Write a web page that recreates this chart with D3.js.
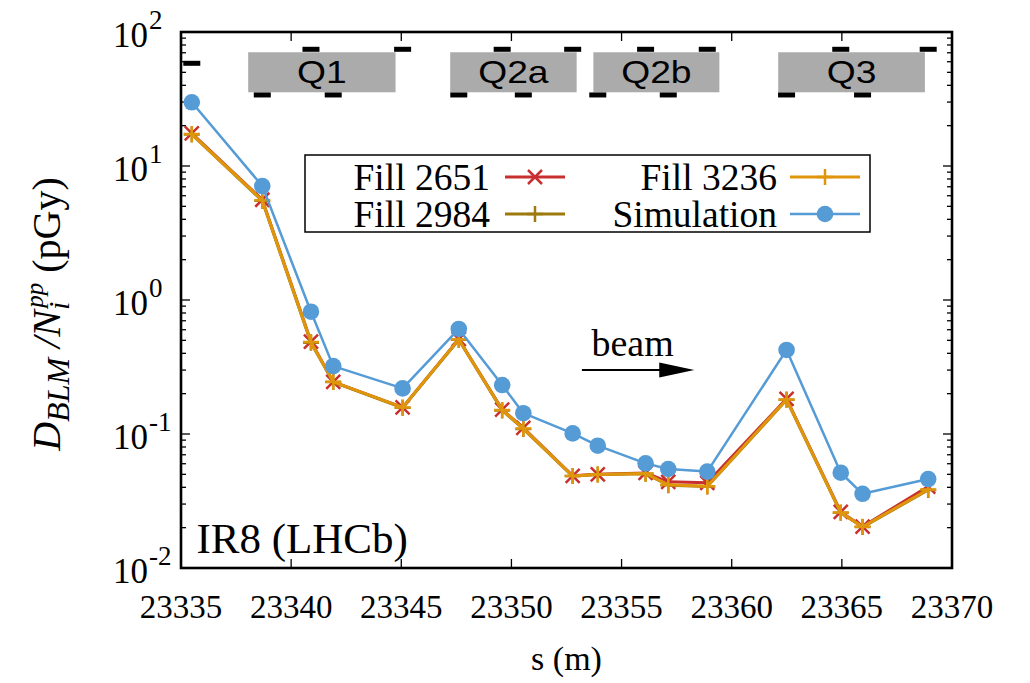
<!DOCTYPE html>
<html><head><meta charset="utf-8">
<script src="https://cdn.jsdelivr.net/npm/d3@7"></script>
<style>body{margin:0;background:#fff;} svg{display:block} .sf{font-family:"Liberation Serif","Times New Roman",Times,serif;}</style>
</head><body>
<svg id="c" width="1030" height="683"></svg>
<script>
// ---- data ----
const positions = [23335.49, 23338.69, 23340.90, 23341.91, 23345.06, 23347.61, 23349.58, 23350.54, 23352.78, 23353.92, 23356.09, 23357.12, 23358.89, 23362.49, 23364.95, 23365.94, 23368.92];
const fill2651 = [17.5, 5.6, 0.49, 0.245, 0.158, 0.51, 0.152, 0.111, 0.0487, 0.0500, 0.0512, 0.0440, 0.0432, 0.183, 0.0262, 0.0204, 0.0405];
const fill2984 = [17.2, 5.5, 0.48, 0.244, 0.157, 0.505, 0.150, 0.109, 0.0485, 0.0498, 0.0505, 0.0415, 0.0405, 0.180, 0.0258, 0.0202, 0.0382];
const fill3236 = [17.3, 5.55, 0.485, 0.245, 0.158, 0.508, 0.151, 0.110, 0.0486, 0.0499, 0.0508, 0.0418, 0.0408, 0.181, 0.0259, 0.0203, 0.0385];
const simulation = [29.9, 7.09, 0.818, 0.321, 0.219, 0.608, 0.232, 0.143, 0.101, 0.0818, 0.0604, 0.0548, 0.0524, 0.424, 0.0514, 0.0358, 0.0461];
const blmMarkY = [58.4, 33.9, 74.3, 33.9, 74.3, 33.9, 74.3, 33.9, 74.3, 33.9, 74.3, 33.9, 74.3, 33.9, 74.3, 33.9, 74.3];
const magnetNames = ["Q1", "Q2a", "Q2b", "Q3"];
const magnetStart = [23338.05, 23347.22, 23353.72, 23362.11];
const magnetEnd = [23344.74, 23352.96, 23359.44, 23368.77];
const magnetTop = 70.6, magnetBottom = 35.5;
const xTicks = [23335, 23340, 23345, 23350, 23355, 23360, 23365, 23370];
const yExponents = [-2, -1, 0, 1, 2];
const seriesNames = ["Fill 2651", "Fill 2984", "Fill 3236", "Simulation"];
const seriesColors = ["#c8302f", "#9e7a0e", "#e0960c", "#559bd6"];

const svg = d3.select("#c");
const M = {l: 181, r: 952, t: 32, b: 568};
const x = d3.scaleLinear().domain([23335, 23370]).range([M.l, M.r]);
const y = d3.scaleLog().domain([0.01, 100]).range([M.b, M.t]);
const sans = "Liberation Sans, Arial, Helvetica, sans-serif";

// magnets
const mg = svg.append("g");
magnetNames.forEach((n, i) => {
  mg.append("rect").attr("x", x(magnetStart[i])).attr("y", y(magnetTop))
    .attr("width", x(magnetEnd[i]) - x(magnetStart[i])).attr("height", y(magnetBottom) - y(magnetTop))
    .attr("fill", "#ababab");
  const cx = (x(magnetStart[i]) + x(magnetEnd[i])) / 2, cy = (y(magnetTop) + y(magnetBottom)) / 2 + 11;
  mg.append("text").attr("transform", `translate(${cx},${cy}) scale(1.2,1)`)
    .attr("text-anchor", "middle").attr("font-family", sans).attr("font-size", 31).attr("fill", "#000").text(n);
});
// BLM markers
mg.selectAll("rect.blm").data(positions).enter().append("rect").attr("class", "blm")
  .attr("x", d => x(d) - 8.5).attr("y", (d, i) => y(blmMarkY[i]) - 2.5).attr("width", 17).attr("height", 5).attr("fill", "#000");

// axes frame ticks
const ax = svg.append("g").attr("stroke", "#000").attr("fill", "none");
xTicks.forEach(t => {
  ax.append("line").attr("x1", x(t)).attr("x2", x(t)).attr("y1", M.b).attr("y2", M.b - 9).attr("stroke-width", 1.3);
  ax.append("line").attr("x1", x(t)).attr("x2", x(t)).attr("y1", M.t).attr("y2", M.t + 9).attr("stroke-width", 1.3);
});
yExponents.forEach(e => {
  const v = Math.pow(10, e);
  ax.append("line").attr("x1", M.l).attr("x2", M.l + 9).attr("y1", y(v)).attr("y2", y(v)).attr("stroke-width", 1.3);
  ax.append("line").attr("x1", M.r).attr("x2", M.r - 9).attr("y1", y(v)).attr("y2", y(v)).attr("stroke-width", 1.3);
  if (e < 2) for (let k = 2; k <= 9; k++) {
    const vv = k * v;
    ax.append("line").attr("x1", M.l).attr("x2", M.l + 5).attr("y1", y(vv)).attr("y2", y(vv)).attr("stroke-width", 1.3);
    ax.append("line").attr("x1", M.r).attr("x2", M.r - 5).attr("y1", y(vv)).attr("y2", y(vv)).attr("stroke-width", 1.3);
  }
});
ax.append("rect").attr("x", M.l).attr("y", M.t).attr("width", M.r - M.l).attr("height", M.b - M.t).attr("stroke-width", 2.6);

// tick labels
svg.append("g").selectAll("text").data(xTicks).enter().append("text").attr("class", "sf")
  .attr("x", d => x(d)).attr("y", 618).attr("text-anchor", "middle")
  .attr("font-size", 33).text(d => d);
const yl = svg.append("g");
yExponents.forEach(e => {
  yl.append("text").attr("class", "sf").attr("x", 148).attr("y", y(Math.pow(10, e)) + 15)
    .attr("text-anchor", "end").attr("font-size", 35).text("10");
  yl.append("text").attr("class", "sf").attr("x", 149).attr("y", y(Math.pow(10, e)) - 3)
    .attr("text-anchor", "start").attr("font-size", 27).text(String(e));
});

// axis titles
svg.append("text").attr("class", "sf").attr("x", (M.l + M.r) / 2).attr("y", 670).attr("text-anchor", "middle")
  .attr("font-size", 34).text("s (m)");
const yt = svg.append("text").attr("class", "sf").attr("transform", "translate(60," + 314 + ") rotate(-90)")
  .attr("text-anchor", "middle").attr("font-size", 40);
yt.append("tspan").attr("font-style", "italic").text("D");
yt.append("tspan").attr("font-style", "italic").attr("font-size", 32).attr("dy", 9).text("BLM");
yt.append("tspan").attr("font-style", "italic").attr("dy", -9).text(" /N");
yt.append("tspan").attr("font-style", "italic").attr("font-size", 30).attr("dy", 9).text("i");
yt.append("tspan").attr("font-style", "italic").attr("font-size", 25).attr("dx", -6).attr("dy", -26).text("pp");
yt.append("tspan").attr("dy", 17).text(" (pGy)");

// series
const data = [fill2651, fill2984, fill3236, simulation];
const line = d3.line().x((d, i) => x(positions[i])).y(d => y(d));
const plot = svg.append("g");
function marker(g, type, cx, cy, color) {
  if (type === "x") {
    g.append("path").attr("d", `M${cx-7},${cy-7}L${cx+7},${cy+7}M${cx-7},${cy+7}L${cx+7},${cy-7}`).attr("stroke", color).attr("stroke-width", 2.5).attr("fill", "none");
  } else if (type === "+") {
    g.append("path").attr("d", `M${cx-8},${cy}L${cx+8},${cy}M${cx},${cy-8}L${cx},${cy+8}`).attr("stroke", color).attr("stroke-width", 2.5).attr("fill", "none");
  } else {
    g.append("circle").attr("cx", cx).attr("cy", cy).attr("r", 8.3).attr("fill", color);
  }
}
const mtypes = ["x", "+", "+", "o"];
const widths = [3, 3, 3, 2.5];
data.forEach((s, k) => {
  plot.append("path").datum(s).attr("d", line).attr("fill", "none").attr("stroke", seriesColors[k]).attr("stroke-width", widths[k]).attr("stroke-linejoin", "round");
  s.forEach((v, i) => marker(plot, mtypes[k], x(positions[i]), y(v), seriesColors[k]));
});

// legend
const lg = svg.append("g");
lg.append("rect").attr("x", 305).attr("y", 155).attr("width", 565).attr("height", 77).attr("fill", "#fff").attr("stroke", "#000").attr("stroke-width", 1.5);
const legPos = [[490, 177], [490, 214], [777, 177], [777, 214]];
const legLine = [[505, 565], [505, 565], [790, 860], [790, 860]];
seriesNames.forEach((n, k) => {
  lg.append("text").attr("class", "sf").attr("x", legPos[k][0]).attr("y", legPos[k][1] + 13).attr("text-anchor", "end")
    .attr("font-size", 37.5).text(n);
  lg.append("line").attr("x1", legLine[k][0]).attr("x2", legLine[k][1]).attr("y1", legPos[k][1]).attr("y2", legPos[k][1])
    .attr("stroke", seriesColors[k]).attr("stroke-width", widths[k]);
  marker(lg, mtypes[k], (legLine[k][0] + legLine[k][1]) / 2, legPos[k][1], seriesColors[k]);
});

// annotations
svg.append("text").attr("class", "sf").attr("x", x(23355.5)).attr("y", y(0.385)).attr("text-anchor", "middle")
  .attr("font-size", 38).text("beam");
const ay = y(0.30), ax0 = x(23353.2), ax1 = x(23358.3);
svg.append("line").attr("x1", ax0).attr("x2", ax1 - 30).attr("y1", ay).attr("y2", ay)
  .attr("stroke", "#000").attr("stroke-width", 2);
svg.append("path").attr("d", `M${ax1},${ay}L${ax1 - 35},${ay - 7.5}L${ax1 - 35},${ay + 7.5}Z`).attr("fill", "#000");
svg.append("text").attr("class", "sf").attr("x", x(23335.7)).attr("y", y(0.0129)).attr("font-size", 43).text("IR8 (LHCb)");
</script>
</body></html>
